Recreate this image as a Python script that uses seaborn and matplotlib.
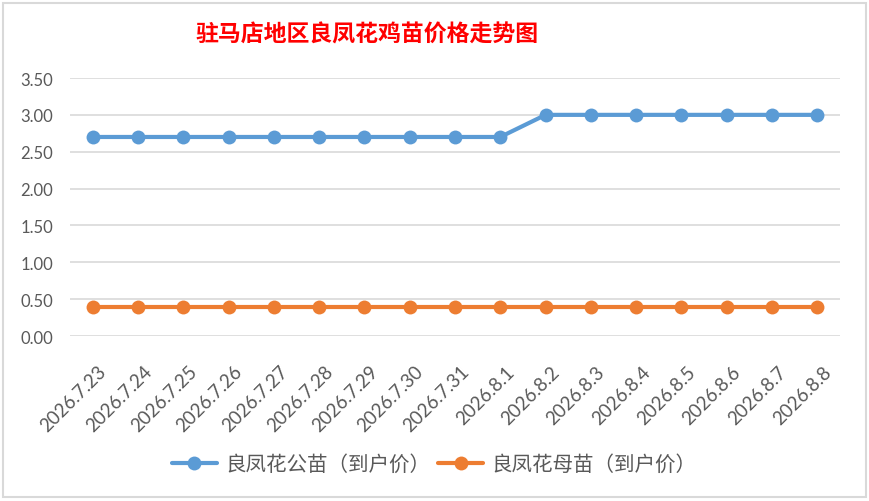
import matplotlib
matplotlib.use("Agg")
import matplotlib.pyplot as plt
import matplotlib.transforms as mtransforms
from matplotlib.patches import Rectangle
import seaborn as sns
import pandas as pd

dates = ["2026.7.23", "2026.7.24", "2026.7.25", "2026.7.26", "2026.7.27", "2026.7.28",
         "2026.7.29", "2026.7.30", "2026.7.31", "2026.8.1", "2026.8.2", "2026.8.3",
         "2026.8.4", "2026.8.5", "2026.8.6", "2026.8.7", "2026.8.8"]
male = [2.70, 2.70, 2.70, 2.70, 2.70, 2.70, 2.70, 2.70, 2.70, 2.70,
        3.00, 3.00, 3.00, 3.00, 3.00, 3.00, 3.00]
female = [0.40] * 17
series_names = ["良凤花公苗（到户价）", "良凤花母苗（到户价）"]
yticks = [0.0, 0.5, 1.0, 1.5, 2.0, 2.5, 3.0, 3.5]
title = "驻马店地区良凤花鸡苗价格走势图"

sns.set_theme(style="white")
plt.rcParams["font.family"] = ["Lato", "Noto Sans CJK SC", "DejaVu Sans"]

rows = []
for i, d in enumerate(dates):
    rows.append({"idx": i, "date": d, "price": male[i], "series": series_names[0]})
for i, d in enumerate(dates):
    rows.append({"idx": i, "date": d, "price": female[i], "series": series_names[1]})
df = pd.DataFrame(rows)

palette = {series_names[0]: "#5B9BD5", series_names[1]: "#ED7D31"}

fig = plt.figure(figsize=(8.69, 5.02), dpi=100)
fig.patch.set_facecolor("white")
fig.patches.append(Rectangle((3 / 869, 4 / 502), 863 / 869, 494 / 502, transform=fig.transFigure,
                             fill=False, edgecolor="#D9D9D9", linewidth=1.5))
ax = fig.add_axes([70 / 869, (502 - 337) / 502, 770 / 869, 258 / 502])

sns.lineplot(data=df, x="idx", y="price", hue="series", palette=palette, marker="o",
             markersize=10, markeredgewidth=0, linewidth=3, ax=ax, legend=True, zorder=3)

ax.set_xlim(-0.5, len(dates) - 0.5)
ax.set_ylim(0, 3.5)
ax.set_yticks(yticks)
ax.set_yticklabels([f"{v:.2f}" for v in yticks])
ax.set_xticks(range(len(dates)))
ax.set_xticklabels(dates, rotation=45, ha="right", va="top", rotation_mode="anchor")
ax.grid(axis="y", color="#D9D9D9", linewidth=1.2)
ax.grid(axis="x", visible=False)
for s in ax.spines.values():
    s.set_visible(False)
ax.tick_params(axis="both", length=0, colors="#595959", labelsize=12)
ax.tick_params(axis="x", labelsize=13.5)
ax.tick_params(axis="y", pad=12)
ax.tick_params(axis="x", pad=19)
ax.set_xlabel("")
ax.set_ylabel("")
offset = mtransforms.ScaledTranslation(5 / 100, 0, fig.dpi_scale_trans)
for lab in ax.get_xticklabels():
    lab.set_transform(lab.get_transform() + offset)

handles, labels = ax.get_legend_handles_labels()
ax.get_legend().remove()
fig.legend(handles, labels, loc="center", bbox_to_anchor=(0.4995, 0.074), ncol=2,
           frameon=False, labelcolor="#595959", handlelength=2.2,
           columnspacing=0.4, handletextpad=0.4,
           prop={"family": ["Noto Sans CJK SC", "DejaVu Sans"], "size": 14.8, "weight": "light"})

fig.text(367 / 869, 1 - 35 / 502, title, color="#FF0000", fontsize=16.5, fontweight="bold",
         ha="center", va="center", family=["Noto Sans CJK SC", "DejaVu Sans"])

fig.savefig("out.png", dpi=100)
